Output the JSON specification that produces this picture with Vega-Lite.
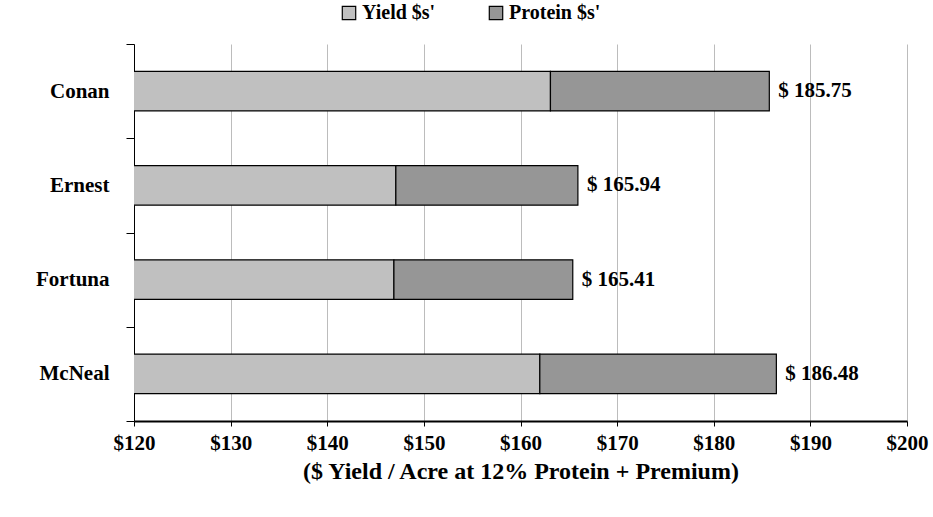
{
  "$schema": "https://vega.github.io/schema/vega-lite/v6.json",
  "width": 773,
  "height": 377,
  "autosize": {"type": "none"},
  "padding": {"left": 134, "top": 44, "right": 26, "bottom": 96},
  "background": "white",
  "config": {
    "view": {"stroke": null},
    "font": "Liberation Serif",
    "axis": {"labelFont": "Liberation Serif", "titleFont": "Liberation Serif"},
    "legend": {"labelFont": "Liberation Serif"}
  },
  "data": {
    "values": [
      {"variety": "Conan", "component": "Yield $s'", "value": 163.1, "ord": 1},
      {"variety": "Conan", "component": "Protein $s'", "value": 22.65, "ord": 2},
      {"variety": "Ernest", "component": "Yield $s'", "value": 147.1, "ord": 1},
      {"variety": "Ernest", "component": "Protein $s'", "value": 18.84, "ord": 2},
      {"variety": "Fortuna", "component": "Yield $s'", "value": 146.9, "ord": 1},
      {"variety": "Fortuna", "component": "Protein $s'", "value": 18.51, "ord": 2},
      {"variety": "McNeal", "component": "Yield $s'", "value": 162.0, "ord": 1},
      {"variety": "McNeal", "component": "Protein $s'", "value": 24.48, "ord": 2}
    ]
  },
  "encoding": {
    "y": {
      "field": "variety",
      "type": "nominal",
      "sort": ["Conan", "Ernest", "Fortuna", "McNeal"],
      "scale": {"paddingInner": 0, "paddingOuter": 0},
      "axis": {
        "title": null,
        "tickBand": "extent",
        "tickSize": 8,
        "tickColor": "black",
        "domainColor": "black",
        "labelFontSize": 21,
        "labelFontWeight": "bold",
        "labelColor": "black",
        "labelPadding": 17,
        "grid": false
      }
    }
  },
  "layer": [
    {
      "mark": {"type": "bar", "height": {"band": 0.42}, "stroke": "black", "strokeWidth": 1.2, "clip": true},
      "encoding": {
        "x": {
          "field": "value",
          "type": "quantitative",
          "aggregate": "sum",
          "stack": "zero",
          "scale": {"domain": [120, 200], "nice": false, "zero": false},
          "axis": {
            "values": [120, 130, 140, 150, 160, 170, 180, 190, 200],
            "labelExpr": "'$' + datum.value",
            "labelFlush": false,
            "labelFontSize": 21,
            "labelFontWeight": "bold",
            "labelColor": "black",
            "labelPadding": 6,
            "tickSize": 5,
            "tickColor": "black",
            "domainColor": "black",
            "domainWidth": 2,
            "grid": true,
            "gridColor": "#bcbcbc",
            "gridWidth": 1,
            "title": "($ Yield / Acre at 12% Protein + Premium)",
            "titleFontSize": 24,
            "titleFontWeight": "bold",
            "titleColor": "black",
            "titlePadding": 6
          }
        },
        "color": {
          "field": "component",
          "type": "nominal",
          "scale": {"domain": ["Yield $s'", "Protein $s'"], "range": ["#c0c0c0", "#969696"]},
          "legend": {
            "title": null,
            "orient": "none",
            "direction": "horizontal",
            "legendX": 205,
            "legendY": -41,
            "symbolType": "square",
            "symbolSize": 180,
            "symbolStrokeColor": "black",
            "symbolStrokeWidth": 1.2,
            "symbolOpacity": 1,
            "labelFontSize": 20,
            "labelFontWeight": "bold",
            "labelColor": "black",
            "labelOffset": 3,
            "columnPadding": 50
          }
        },
        "order": {"field": "ord", "type": "quantitative"}
      }
    },
    {
      "transform": [
        {"aggregate": [{"op": "sum", "field": "value", "as": "total"}], "groupby": ["variety"]},
        {"calculate": "'$ ' + format(datum.total, '.2f')", "as": "label"}
      ],
      "mark": {"type": "text", "align": "left", "baseline": "middle", "dx": 9, "fontSize": 21, "fontWeight": "bold", "color": "black", "font": "Liberation Serif"},
      "encoding": {
        "x": {"field": "total", "type": "quantitative"},
        "text": {"field": "label", "type": "nominal"}
      }
    }
  ]
}
